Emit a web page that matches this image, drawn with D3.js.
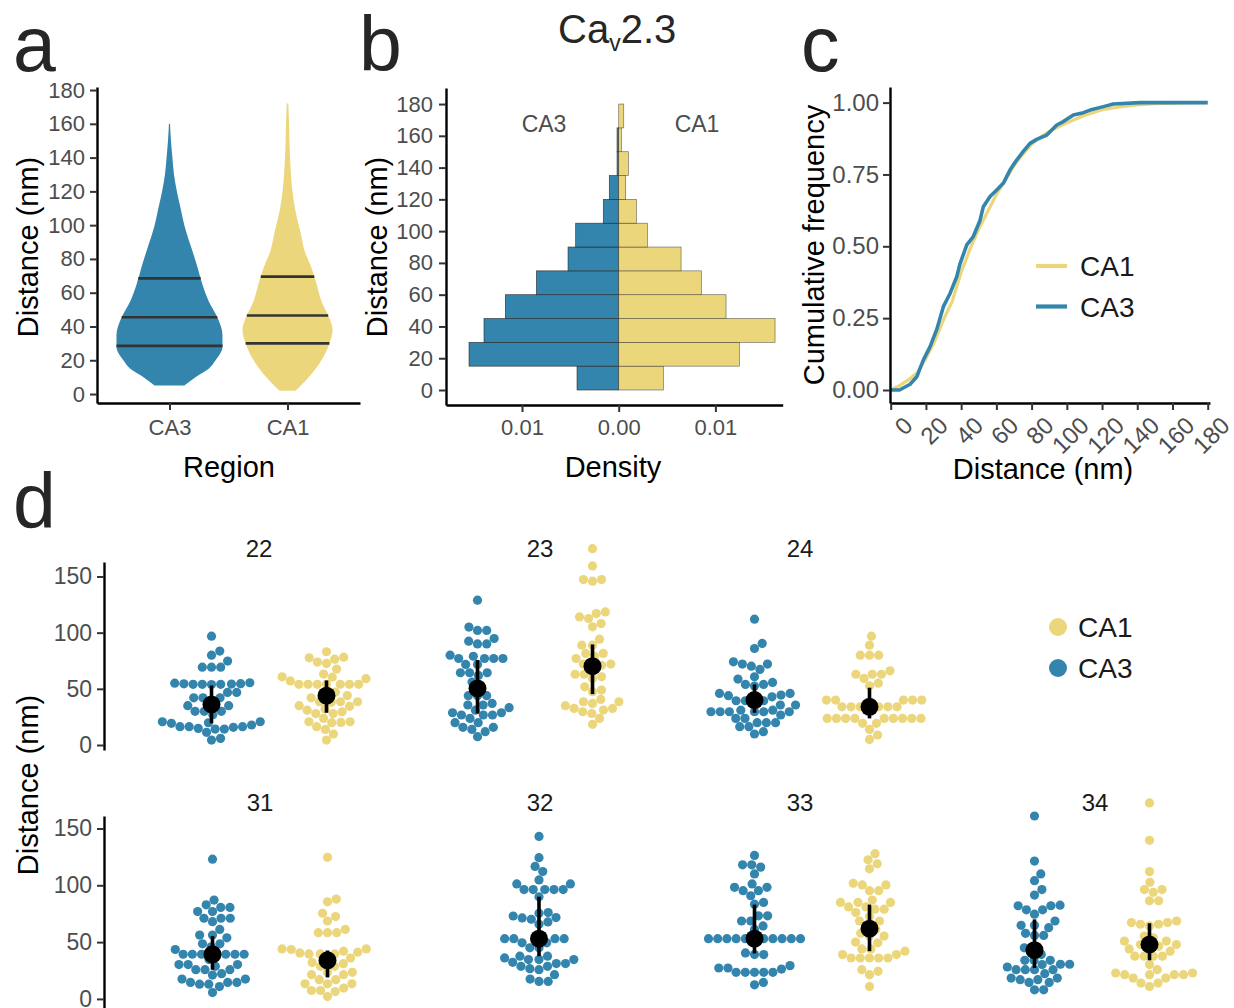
<!DOCTYPE html>
<html>
<head>
<meta charset="utf-8">
<script src="https://cdn.jsdelivr.net/npm/d3@7"></script>
<style>
  body { margin: 0; background: #fff; }
</style>
</head>
<body>
<div id="chart"></div>
<script>
const FONT = '"Liberation Sans", Arial, Helvetica, sans-serif';

// Regions and colours
const regions = ["CA3", "CA1"];
const regionColors = { CA3: "#3385ad", CA1: "#ebd67b" };

// a: violin outlines (distance, relative density) and quartiles
const violinCA3Y = [5, 10, 15, 20, 28, 35, 45, 55, 65, 75, 85, 100, 110, 120, 130, 140, 150, 160];
const violinCA3D = [0.28, 0.49, 0.74, 0.87, 1.0, 1.0, 0.91, 0.74, 0.62, 0.53, 0.43, 0.28, 0.21, 0.14, 0.085, 0.055, 0.028, 0.01];
const violinCA1Y = [2, 10, 20, 30, 38, 45, 55, 65, 75, 85, 95, 110, 120, 140, 160, 172];
const violinCA1D = [0.15, 0.40, 0.64, 0.79, 0.85, 0.79, 0.64, 0.55, 0.45, 0.32, 0.25, 0.14, 0.094, 0.047, 0.028, 0.015];
const quartilesCA3 = [28.5, 45.5, 68.5];
const quartilesCA1 = [30, 46.5, 69.5];

// b: histogram (15 nm bins), density
const binEdges = [0, 15, 30, 45, 60, 75, 90, 105, 120, 135, 150, 165, 180];
const densCA3 = [0.00431, 0.01548, 0.01393, 0.01172, 0.00851, 0.00524, 0.00445, 0.00159, 0.00097, 0.00017, 0.00017, 0];
const densCA1 = [0.00462, 0.01248, 0.01617, 0.0111, 0.00855, 0.00645, 0.00297, 0.00183, 0.00072, 0.001, 0.00028, 0.00052];

// c: cumulative frequency
const ecdfCA3X = [0, 5, 11, 14.8, 18.5, 22.3, 26.1, 29.9, 33.7, 37.5, 39.4, 43.2, 46.9, 50.7, 52.6, 56.4, 60.2, 64, 67.8, 71.5, 75.3, 79.1, 82.9, 88.6, 94.3, 98, 103.7, 109.4, 113.2, 120.8, 126.4, 141.6, 160, 180];
const ecdfCA3F = [0, 0, 0.02, 0.046, 0.104, 0.15, 0.21, 0.29, 0.336, 0.394, 0.44, 0.505, 0.534, 0.59, 0.638, 0.673, 0.696, 0.72, 0.766, 0.80, 0.83, 0.858, 0.872, 0.887, 0.922, 0.934, 0.957, 0.965, 0.974, 0.986, 0.995, 1.0, 1.0, 1.0];
const ecdfCA1X = [0, 5, 10, 15, 20, 25, 30, 35, 40, 45, 50, 55, 60, 65, 70, 75, 80, 85, 90, 95, 100, 110, 120, 130, 140, 150, 160, 172, 180];
const ecdfCA1F = [0, 0.015, 0.035, 0.06, 0.11, 0.17, 0.245, 0.31, 0.41, 0.49, 0.56, 0.62, 0.68, 0.73, 0.78, 0.82, 0.855, 0.88, 0.90, 0.915, 0.93, 0.955, 0.975, 0.985, 0.992, 0.996, 0.998, 1.0, 1.0];
const cTicks = [0, 20, 40, 60, 80, 100, 120, 140, 160, 180];
const cFreqTicks = [0, 0.25, 0.5, 0.75, 1];

// d: per-animal distances (nm)
const d22CA3 = [96.9, 83.6, 80.0, 74.7, 69.3, 69.3, 69.3, 55, 54.5, 54, 54, 54, 53.8, 54.2, 54.6, 55.4, 46.8, 46.8, 42, 42, 42, 39, 35, 35, 30, 30, 30, 27, 20.7, 20.7, 19.8, 17.8, 16.3, 15.7, 14.2, 14.2, 14.8, 16.3, 16.3, 19.3, 11.3, 5.9, 4.4];
const d22CA1 = [83, 77.6, 76.4, 78.2, 72.6, 73.8, 67.6, 63.1, 60.7, 60.4, 59, 57, 54, 54, 54, 54, 54, 54, 54, 47, 45.3, 44, 42, 38.5, 38.5, 38.5, 38, 35, 34.4, 32, 31, 29.6, 28, 28, 23.7, 20.7, 20.7, 20.1, 19.9, 16.3, 13.9, 9.8, 4.4];
const d23CA3 = [128.9, 105, 102, 102, 94.8, 92.4, 90, 90, 79, 80, 77, 77, 77, 77, 71.7, 71.7, 64.3, 64.3, 64.3, 61.9, 56, 51.8, 43.9, 43.9, 43.9, 37, 35.6, 35.6, 33.2, 31, 28.7, 28.7, 26.7, 26.7, 26.7, 23.7, 19.9, 19.9, 15.7, 15.7, 13.9, 11.9, 7.4];
const d23CA1 = [174.8, 159.4, 147.3, 147.3, 145.8, 118.5, 117, 114, 112.6, 108.1, 105.2, 94.2, 88.9, 88.9, 81.5, 81.5, 79, 77, 72, 72, 71, 71, 63, 63, 60.7, 59.3, 51.8, 48.9, 47.4, 40.6, 38.5, 38.5, 37, 35, 32.6, 32.6, 31.1, 29.6, 28.1, 23.7, 18.4];
const d24CA3 = [112, 90.4, 85.9, 74, 72, 72, 70.2, 67.3, 60.7, 58.7, 55.7, 53.9, 53.9, 52.5, 45.9, 45.9, 44.4, 43.9, 42.9, 39.4, 39.4, 39.4, 39.4, 35.6, 35.6, 31, 31, 29.6, 29.6, 29.6, 29.6, 29.6, 29.6, 26.7, 23.7, 23.7, 19.9, 19.9, 19.9, 16.3, 16.3, 11.9, 9.8];
const d24CA1 = [96.9, 88.9, 80, 80, 80, 66, 63, 63, 63, 59.3, 55, 52.7, 40, 40, 40, 40, 40, 34, 34, 34, 34, 34, 34, 34, 23.7, 23.7, 23.7, 23.7, 23.7, 23.7, 23.7, 23.7, 23.7, 19.3, 19.3, 13.9, 8.9, 5];
const d31CA3 = [123, 87, 82.8, 80.5, 80.5, 76.9, 76.9, 71, 71, 71, 68, 61.2, 56.2, 56.2, 53.8, 48.5, 48.5, 45.9, 43.5, 39.3, 39.3, 39.3, 39.3, 39.3, 39.3, 39.3, 34.6, 30.2, 30.2, 30.2, 28.7, 25.7, 25.7, 25.7, 22.2, 21, 17.5, 17.5, 14.5, 14.5, 14.5, 13, 13, 10.9, 5.6];
const d31CA1 = [124.6, 87.9, 85.5, 75.4, 72.5, 68.6, 61.2, 58.3, 58.3, 58.3, 44, 44, 43.5, 42, 41.1, 40.5, 39.6, 39.6, 39.6, 36, 34.6, 32, 31, 28.7, 28.7, 23.4, 23.4, 21.3, 21.3, 16.9, 16.9, 13.3, 13.3, 13.3, 9.5, 7.4, 7.4, 6.5, 2.1];
const d32CA3 = [143, 124.3, 116.6, 112.1, 104.7, 101.2, 101.2, 96.2, 96.2, 96.2, 96.2, 96.2, 89.9, 76, 75.4, 73, 71.6, 71.3, 70.1, 67.8, 65.7, 53, 53, 53, 53, 53, 49.4, 49.4, 45, 45, 37.6, 37.6, 36.1, 34.6, 34.6, 34.6, 32.2, 31.1, 31.1, 28.7, 28.7, 26.6, 25.7, 21.3, 17.5, 15.4, 15.4];
const d33CA3 = [126.3, 118, 118, 116, 110, 101.2, 98.2, 98.2, 95.3, 95.3, 90.8, 84.9, 83.4, 73.1, 73.1, 68.6, 68.6, 64.2, 61.2, 53, 53, 53, 53, 53, 53, 53, 53, 53, 53, 53, 40.5, 39, 39, 29.3, 27.2, 27.2, 26.3, 23.4, 23.4, 23.4, 23.4, 23.4, 14.5, 12.4];
const d33CA1 = [127.8, 122.5, 118.9, 114.5, 101.8, 100.3, 100.3, 95.3, 95.3, 87, 84.9, 84.9, 84.9, 81, 81, 79, 79, 76, 72.5, 68.6, 68.6, 64.2, 61.2, 57.7, 55.3, 55.3, 50, 49.4, 44, 44, 42, 39, 39, 36, 36, 36, 36, 36, 25.7, 24.3, 21.3, 10.9];
const d34CA3 = [161, 121.3, 110, 104.1, 96.2, 91.4, 82.5, 82, 82, 78.4, 78.4, 74.6, 68.6, 64.8, 64.8, 62.7, 57.7, 55.9, 55.9, 45, 42.9, 39, 34, 34, 34, 30.5, 30.5, 30.2, 28.1, 25.7, 25.7, 25.7, 25.7, 22.2, 18.3, 18.3, 16.9, 16.9, 14.5, 14.5, 8, 8];
const d34CA1 = [172.5, 139.6, 112.1, 102.7, 96.2, 96.2, 93.8, 86.4, 86.4, 68.6, 67.2, 67.2, 65.7, 65.7, 64.2, 55.3, 53.8, 50.9, 50.9, 47.9, 47.9, 46.4, 46.4, 44, 42, 37.6, 37.6, 37.6, 37.6, 30.2, 25.7, 22.8, 22.8, 21.3, 21.3, 21.3, 21.3, 18.3, 18.3, 13.9, 13.9, 10.9];

// d: centre with lower and upper bar, [centre, low, high]
const s22CA3 = [36.1, 19.3, 53];   const s22CA1 = [43.9, 28.7, 57.5];
const s23CA3 = [50.4, 28.1, 75.6]; const s23CA1 = [70.2, 45.3, 89.5];
const s24CA3 = [40, 28.7, 53.9];   const s24CA1 = [34, 23.7, 51];
const s31CA3 = [39.3, 25.7, 55.3]; const s31CA1 = [34, 18.9, 42.6];
const s32CA3 = [53, 37.6, 90];
const s33CA3 = [53, 40, 83];       const s33CA1 = [61.8, 42, 83];
const s34CA3 = [42.9, 27.2, 70];   const s34CA1 = [47.9, 34, 66.6];
const dTicks = [0, 50, 100, 150];

const facets = [
  { id: "22", CA3: d22CA3, CA1: d22CA1, sCA3: s22CA3, sCA1: s22CA1 },
  { id: "23", CA3: d23CA3, CA1: d23CA1, sCA3: s23CA3, sCA1: s23CA1 },
  { id: "24", CA3: d24CA3, CA1: d24CA1, sCA3: s24CA3, sCA1: s24CA1 },
  { id: "31", CA3: d31CA3, CA1: d31CA1, sCA3: s31CA3, sCA1: s31CA1 },
  { id: "32", CA3: d32CA3, sCA3: s32CA3 },
  { id: "33", CA3: d33CA3, CA1: d33CA1, sCA3: s33CA3, sCA1: s33CA1 },
  { id: "34", CA3: d34CA3, CA1: d34CA1, sCA3: s34CA3, sCA1: s34CA1 }
];
// facet placement (row, group centre, title x)
const facetPos = {
  "22": { row: 0, cx: 269, tx: 259 }, "23": { row: 0, cx: 535, tx: 540 }, "24": { row: 0, cx: 812, tx: 800 },
  "31": { row: 1, cx: 270, tx: 260 }, "32": { row: 1, cx: 539, tx: 540 }, "33": { row: 1, cx: 812, tx: 800 },
  "34": { row: 1, cx: 1092, tx: 1095 }
};

const W = 1234, H = 1008;
const svg = d3.select("#chart").append("svg")
  .attr("width", W).attr("height", H)
  .style("font-family", FONT);

function styleAxis(g, size) {
  g.attr("font-family", FONT).attr("font-size", size);
  g.select(".domain").attr("stroke", "#000").attr("stroke-width", 2.4);
  g.selectAll(".tick line").attr("stroke", "#333").attr("stroke-width", 2);
  g.selectAll(".tick text").attr("fill", "#4d4d4d");
}

function label(x, y, txt, size, opts) {
  opts = opts || {};
  const t = svg.append("text")
    .attr("x", x).attr("y", y)
    .attr("font-size", size)
    .attr("fill", opts.fill || "#000")
    .attr("text-anchor", opts.anchor || "middle")
    .text(txt);
  if (opts.rotate) t.attr("transform", "rotate(-90," + x + "," + y + ")");
  return t;
}

// Panel letters
label(13, 71, "a", 77, { anchor: "start", fill: "#262626" });
label(359, 71, "b", 77, { anchor: "start", fill: "#262626" });
label(801, 71, "c", 77, { anchor: "start", fill: "#262626" });
label(13, 528, "d", 77, { anchor: "start", fill: "#262626" });

// Title Cav2.3
var title = svg.append("text").attr("x", 558).attr("y", 43).attr("font-size", 40).attr("fill", "#262626");
title.append("tspan").text("Ca");
title.append("tspan").attr("dy", 8).attr("font-size", 23).text("v");
title.append("tspan").attr("dy", -8).text("2.3");

// ---------- a: violins ----------
var ya = d3.scaleLinear().domain([-5.3, 181.8]).range([403, 87]);
var xa = d3.scalePoint().domain(regions).range([97, 360]).padding(0.614);
var wa = d3.scaleLinear().domain([0, 1]).range([0, 53]);

var violins = [
  { r: "CA3", ys: violinCA3Y, ds: violinCA3D, q: quartilesCA3 },
  { r: "CA1", ys: violinCA1Y, ds: violinCA1D, q: quartilesCA1 }
];
violins.forEach(function (v) {
  var cx = xa(v.r);
  var pts = v.ys.map(function (y, i) { return { y: y, d: v.ds[i] }; });
  var area = d3.area().curve(d3.curveMonotoneY)
    .y(function (p) { return ya(p.y); })
    .x0(function (p) { return cx - wa(p.d); })
    .x1(function (p) { return cx + wa(p.d); });
  svg.append("path").attr("d", area(pts)).attr("fill", regionColors[v.r]);
  var widthAt = d3.scaleLinear().domain(v.ys).range(v.ds);
  v.q.forEach(function (q) {
    var hw = wa(widthAt(q));
    svg.append("line")
      .attr("x1", cx - hw).attr("x2", cx + hw)
      .attr("y1", ya(q)).attr("y2", ya(q))
      .attr("stroke", "#333").attr("stroke-width", 2.6);
  });
});

svg.append("g").attr("transform", "translate(97,0)")
  .call(d3.axisLeft(ya).tickValues(d3.range(0, 181, 20)).tickSize(7).tickPadding(5).tickSizeOuter(0))
  .call(styleAxis, 22);
svg.append("g").attr("transform", "translate(0,403)")
  .call(d3.axisBottom(xa).tickSize(7).tickPadding(9).tickSizeOuter(0))
  .call(styleAxis, 22);
label(38, 247, "Distance (nm)", 29, { rotate: true });
label(229, 477, "Region", 29);

// ---------- b: back-to-back histogram ----------
var yb = d3.scaleLinear().domain([-9.44, 190.1]).range([405, 88]);
var xb = d3.scaleLinear().domain([-0.01786, 0.01696]).range([446, 782.7]);

var bins = densCA3.map(function (d, i) {
  return { lo: binEdges[i], hi: binEdges[i + 1], ca3: d, ca1: densCA1[i] };
});
svg.append("g").selectAll("rect.ca3").data(bins).enter().append("rect")
  .attr("x", function (d) { return xb(-d.ca3); })
  .attr("width", function (d) { return xb(0) - xb(-d.ca3); })
  .attr("y", function (d) { return yb(d.hi); })
  .attr("height", function (d) { return yb(d.lo) - yb(d.hi); })
  .attr("fill", regionColors.CA3)
  .attr("stroke", "#222").attr("stroke-opacity", 0.8).attr("stroke-width", 0.7);
svg.append("g").selectAll("rect.ca1").data(bins).enter().append("rect")
  .attr("x", xb(0))
  .attr("width", function (d) { return xb(d.ca1) - xb(0); })
  .attr("y", function (d) { return yb(d.hi); })
  .attr("height", function (d) { return yb(d.lo) - yb(d.hi); })
  .attr("fill", regionColors.CA1)
  .attr("stroke", "#222").attr("stroke-opacity", 0.6).attr("stroke-width", 0.7);

svg.append("g").attr("transform", "translate(446,0)")
  .call(d3.axisLeft(yb).tickValues(d3.range(0, 181, 20)).tickSize(7).tickPadding(6).tickSizeOuter(0))
  .call(styleAxis, 22);
svg.append("g").attr("transform", "translate(0,405)")
  .call(d3.axisBottom(xb).tickValues([-0.01, 0, 0.01])
    .tickFormat(function (d) { return d3.format(".2f")(Math.abs(d)); })
    .tickSize(7).tickPadding(7).tickSizeOuter(0))
  .call(styleAxis, 22);
label(544, 132, "CA3", 23, { fill: "#4d4d4d" });
label(697, 132, "CA1", 23, { fill: "#4d4d4d" });
label(387, 247, "Distance (nm)", 29, { rotate: true });
label(613, 477, "Density", 29);

// ---------- c: cumulative frequency ----------
var yc = d3.scaleLinear().domain([-0.0452, 1.0543]).range([403, 87]);
var xc = d3.scaleLinear().domain([-0.4, 181.3]).range([890, 1210]);
var lineC = d3.line()
  .x(function (p) { return xc(p[0]); })
  .y(function (p) { return yc(p[1]); });
svg.append("path").attr("d", lineC(d3.zip(ecdfCA1X, ecdfCA1F)))
  .attr("fill", "none").attr("stroke", regionColors.CA1).attr("stroke-width", 3.2);
svg.append("path").attr("d", lineC(d3.zip(ecdfCA3X, ecdfCA3F)))
  .attr("fill", "none").attr("stroke", regionColors.CA3).attr("stroke-width", 3.6)
  .attr("stroke-linejoin", "round");

svg.append("g").attr("transform", "translate(890,0)")
  .call(d3.axisLeft(yc).tickValues(cFreqTicks).tickFormat(d3.format(".2f")).tickSize(7).tickPadding(4).tickSizeOuter(0))
  .call(styleAxis, 24);
var cx = svg.append("g").attr("transform", "translate(0,403)")
  .call(d3.axisBottom(xc).tickValues(cTicks).tickSize(7).tickSizeOuter(0))
  .call(styleAxis, 24);
cx.selectAll(".tick text")
  .attr("x", 0).attr("y", 0).attr("dy", "0.71em")
  .attr("text-anchor", "end")
  .attr("transform", "translate(11,12) rotate(-45)");
label(824, 245, "Cumulative frequency", 29, { rotate: true });
label(1043, 479, "Distance (nm)", 29);

[["CA1", 266], ["CA3", 306.5]].forEach(function (e) {
  svg.append("line").attr("x1", 1036).attr("x2", 1067).attr("y1", e[1]).attr("y2", e[1])
    .attr("stroke", regionColors[e[0]]).attr("stroke-width", 4.2);
  label(1080, e[1] + 10, e[0], 28, { anchor: "start", fill: "#1a1a1a" });
});

// ---------- d: beeswarms per animal ----------
var yRows = [
  d3.scaleLinear().domain([-4.45, 162.9]).range([750, 562]),
  d3.scaleLinear().domain([-8, 161]).range([1008, 816])
];
var titleY = [557, 811];
var dotR = 4.6, dotDist = 9.2;

function swarm(ys, dist) {
  var pts = ys.map(function (y) { return { y: y, x: 0 }; })
    .sort(function (a, b) { return b.y - a.y; });
  var placed = [];
  pts.forEach(function (p) {
    var near = placed.filter(function (q) { return Math.abs(q.y - p.y) < dist; });
    var cands = [0];
    near.forEach(function (q) {
      var dx = Math.sqrt(dist * dist - (q.y - p.y) * (q.y - p.y));
      cands.push(q.x + dx, q.x - dx);
    });
    cands.sort(function (a, b) { return Math.abs(a) - Math.abs(b); });
    p.x = cands.find(function (c) {
      return near.every(function (q) {
        return (c - q.x) * (c - q.x) + (p.y - q.y) * (p.y - q.y) >= dist * dist - 0.01;
      });
    });
    placed.push(p);
  });
  return pts;
}

facets.forEach(function (f) {
  var pos = facetPos[f.id];
  var y = yRows[pos.row];
  var present = regions.filter(function (r) { return f[r]; });
  var x = d3.scalePoint().domain(present).range([pos.cx - 57.5, pos.cx + 57.5]);
  var g = svg.append("g");
  present.forEach(function (r) {
    var gx = x(r);
    var pts = swarm(f[r].map(function (v) { return y(v); }), dotDist);
    g.append("g").selectAll("circle").data(pts).enter().append("circle")
      .attr("cx", function (p) { return gx + p.x; })
      .attr("cy", function (p) { return p.y; })
      .attr("r", dotR)
      .attr("fill", regionColors[r]);
    var s = f["s" + r];
    g.append("line").attr("x1", gx).attr("x2", gx)
      .attr("y1", y(s[1])).attr("y2", y(s[2]))
      .attr("stroke", "#000").attr("stroke-width", 3.6);
    g.append("circle").attr("cx", gx).attr("cy", y(s[0])).attr("r", 9).attr("fill", "#000");
  });
  label(pos.tx, titleY[pos.row], f.id, 24, { fill: "#1a1a1a" });
});

yRows.forEach(function (y) {
  svg.append("g").attr("transform", "translate(104,0)")
    .call(d3.axisLeft(y).tickValues(dTicks).tickSize(7).tickPadding(5).tickSizeOuter(0))
    .call(styleAxis, 23);
});
label(38, 785, "Distance (nm)", 29, { rotate: true });

[["CA1", 627], ["CA3", 668]].forEach(function (e) {
  svg.append("circle").attr("cx", 1058).attr("cy", e[1]).attr("r", 9).attr("fill", regionColors[e[0]]);
  label(1078, e[1] + 10, e[0], 28, { anchor: "start", fill: "#1a1a1a" });
});
</script>
</body>
</html>
